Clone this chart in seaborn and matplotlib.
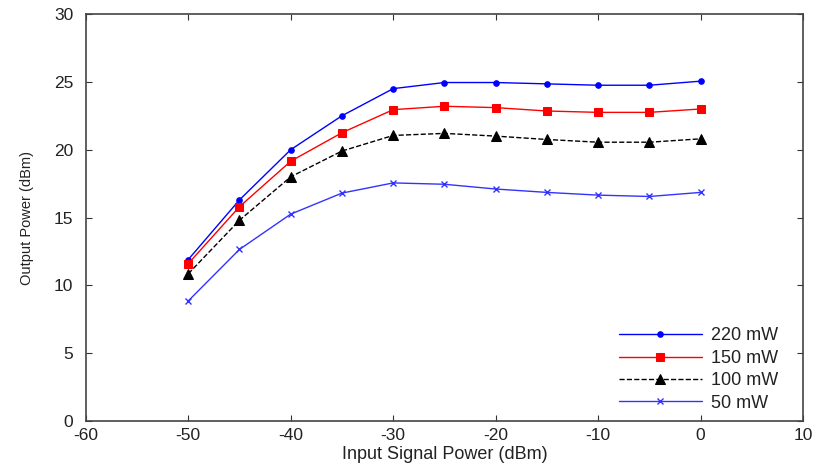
import matplotlib
matplotlib.use("Agg")
import matplotlib.pyplot as plt
import seaborn as sns
import pandas as pd

x_vals = [-50, -45, -40, -35, -30, -25, -20, -15, -10, -5, 0]
p220 = [11.9, 16.3, 20.0, 22.5, 24.5, 24.95, 24.95, 24.85, 24.75, 24.75, 25.05]
p150 = [11.6, 15.8, 19.15, 21.25, 22.95, 23.2, 23.1, 22.85, 22.75, 22.75, 23.0]
p100 = [10.85, 14.8, 18.0, 19.9, 21.05, 21.2, 21.0, 20.75, 20.55, 20.55, 20.8]
p50 = [8.85, 12.65, 15.25, 16.8, 17.55, 17.45, 17.1, 16.85, 16.65, 16.55, 16.85]
labels = ["220 mW", "150 mW", "100 mW", "50 mW"]

sns.set_style("white")
plt.rcParams["font.family"] = ["Liberation Sans", "DejaVu Sans"]
plt.rcParams["axes.unicode_minus"] = False

fig = plt.figure(figsize=(8.17, 4.67), dpi=100)
ax = fig.add_axes([0.105, 0.0985, 0.878, 0.8715])

styles = [
    dict(color="#0000ff", marker="o", markersize=4, linestyle="-", lw=1.0),
    dict(color="#ff0000", marker="s", markersize=5.5, linestyle="-", lw=1.0),
    dict(color="black", marker="^", markersize=6.5, linestyle="--", lw=1.0, dashes=(3, 3)),
    dict(color="#3333ff", marker="x", markersize=5, linestyle="-", lw=1.0, markeredgewidth=1.0),
]
for y, lab, st in zip([p220, p150, p100, p50], labels, styles):
    df = pd.DataFrame({"x": x_vals, "y": y})
    sns.lineplot(data=df, x="x", y="y", ax=ax, label=lab, markeredgecolor=st["color"], **st)

ax.set_xlim(-60, 10)
ax.set_ylim(0, 30)
ax.set_xticks(range(-60, 11, 10))
ax.set_yticks(range(0, 31, 5))
ax.set_xlabel("Input Signal Power (dBm)", fontsize=13, labelpad=2, color="#222222")
ax.set_ylabel("Output Power (dBm)", fontsize=10.5, labelpad=14, color="#222222",
              family=["Liberation Sans Narrow", "Liberation Sans"])
ax.tick_params(direction="in", length=4, width=0.8, labelsize=12.5, top=True, right=True,
               bottom=True, left=True, colors="#333333", pad=5)
ax.tick_params(axis="y", pad=9)
for tl in ax.get_xticklabels() + ax.get_yticklabels():
    tl.set_color("#222222")
for s in ax.spines.values():
    s.set_color("#444444")
    s.set_linewidth(1.2)

leg = ax.legend(loc="lower right", frameon=False, fontsize=13, handlelength=4.6,
                borderaxespad=0.0, labelspacing=0.3, handletextpad=0.5,
                bbox_to_anchor=(0.975, 0.005))
for t in leg.get_texts():
    t.set_color("#222222")
fig.savefig("out.png", dpi=100)
